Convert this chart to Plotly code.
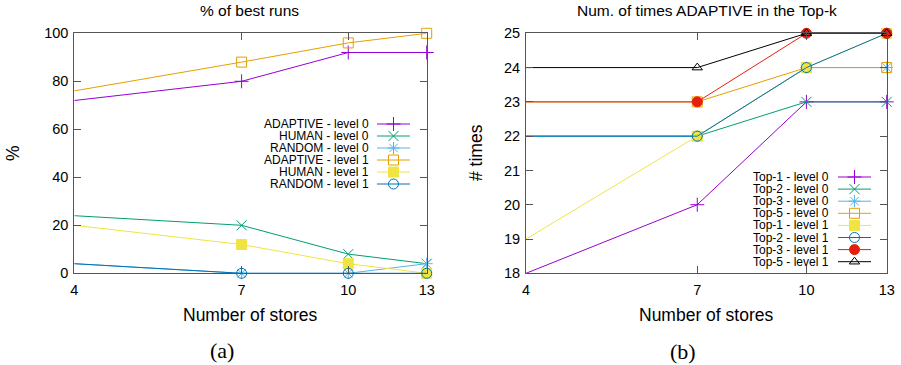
import math
import plotly.graph_objects as go

# screen size; the page's default body margin is removed after plotting
W, H = 901, 365
OFF = 0
FW, FH = W - OFF, H - OFF

# ---------------- data ----------------
stores = [4, 7, 10, 13]

best_names = ["ADAPTIVE - level 0", "HUMAN - level 0", "RANDOM - level 0",
              "ADAPTIVE - level 1", "HUMAN - level 1", "RANDOM - level 1"]
adaptive_l0 = [72, 80, 92, 92]
human_l0 = [24, 20, 8, 4]
random_l0 = [4, 0, 0, 4]
adaptive_l1 = [76, 88, 96, 100]
human_l1 = [20, 12, 4, 0]
random_l1 = [4, 0, 0, 0]
best_series = [adaptive_l0, human_l0, random_l0, adaptive_l1, human_l1, random_l1]

top_names = ["Top-1 - level 0", "Top-2 - level 0", "Top-3 - level 0", "Top-5 - level 0",
             "Top-1 - level 1", "Top-2 - level 1", "Top-3 - level 1", "Top-5 - level 1"]
top1_l0 = [18, 20, 23, 23]
top2_l0 = [22, 22, 23, 23]
top3_l0 = [22, 22, 24, 24]
top5_l0 = [23, 23, 24, 24]
top1_l1 = [19, 22, 24, 25]
top2_l1 = [22, 22, 24, 25]
top3_l1 = [23, 23, 25, 25]
top5_l1 = [24, 24, 25, 25]
top_series = [top1_l0, top2_l0, top3_l0, top5_l0, top1_l1, top2_l1, top3_l1, top5_l1]

pct_ticks = [0, 20, 40, 60, 80, 100]
times_ticks = [18, 19, 20, 21, 22, 23, 24, 25]

# ---------------- styles (gnuplot default cycle) ----------------
colors = ["#9400D3", "#009E73", "#56B4E9", "#E69F00", "#F0E442", "#0072B2", "#E51E10", "#000000"]
symbols = ["cross-thin", "x-thin", "asterisk", "square-open", "square", "circle-open", "circle", "triangle-up-open"]
msizes = [10, 10, 10, 10, 10, 10, 10, 9]

FONT = "Liberation Sans, Arial, sans-serif"
SERIF = "Liberation Serif, DejaVu Serif, serif"
AX = "#555555"

# plot areas in screen pixels (left, top, right, bottom)
A = (74.3, 33.3, 426.7, 273.3)
B = (526.0, 33.3, 886.7, 273.3)


def px(sx):
    return (sx - OFF) / FW


def py(sy):
    return 1 - (sy - OFF) / FH


def xdom(p):
    return [px(p[0]), px(p[2])]


def ydom(p):
    return [py(p[3]), py(p[1])]


def marker(i):
    return dict(symbol=symbols[i], size=msizes[i], color=colors[i],
                line=dict(color=colors[i], width=1))


fig = go.Figure()

for i, (name, ys) in enumerate(zip(best_names, best_series)):
    fig.add_trace(go.Scatter(x=stores, y=ys, mode="lines+markers", name=name,
                             line=dict(color=colors[i], width=1), marker=marker(i),
                             cliponaxis=False, showlegend=False, xaxis="x", yaxis="y"))

for i, (name, ys) in enumerate(zip(top_names, top_series)):
    fig.add_trace(go.Scatter(x=stores, y=ys, mode="lines+markers", name=name,
                             line=dict(color=colors[i], width=1), marker=marker(i),
                             cliponaxis=False, showlegend=False, xaxis="x2", yaxis="y2"))

# ------------- gnuplot-style keys drawn on a pixel overlay axis -------------
annotations = []


def add_key(names, text_right, x1, x2, y0, dy):
    for i, name in enumerate(names):
        yy = y0 + i * dy
        fig.add_trace(go.Scatter(x=[x1, x2], y=[yy, yy], mode="lines",
                                 line=dict(color=colors[i], width=1),
                                 hoverinfo="skip", showlegend=False, xaxis="x3", yaxis="y3"))
        fig.add_trace(go.Scatter(x=[(x1 + x2) / 2], y=[yy], mode="markers",
                                 marker=marker(i), cliponaxis=False,
                                 hoverinfo="skip", showlegend=False, xaxis="x3", yaxis="y3"))
        annotations.append(dict(x=px(text_right), y=py(yy), xref="paper", yref="paper",
                                text=name, showarrow=False, xanchor="right", yanchor="middle",
                                font=dict(family=FONT, size=12, color="black")))


add_key(best_names, 371, 377, 410, 124, 12)
add_key(top_names, 831, 838, 871, 177, 12.1)


def txt(s, x, y, size, angle=0, family=FONT):
    annotations.append(dict(x=px(x), y=py(y), xref="paper", yref="paper", text=s,
                            showarrow=False, xanchor="center", yanchor="middle",
                            textangle=angle, font=dict(family=family, size=size, color="black")))


txt("% of best runs", 250, 10, 15.5)
txt("Num. of times ADAPTIVE in the Top-k", 707, 10, 15.5)
txt("Number of stores", 250, 315, 17.5)
txt("Number of stores", 706, 315, 17.5)
txt("%", 13, 153, 17.5, -90)
txt("# times", 476, 153, 17.5, -90)
txt("(a)", 222, 350, 22, 0, SERIF)
txt("(b)", 683, 351, 22, 0, SERIF)


def xaxis(dom, anchor):
    return dict(domain=dom, anchor=anchor, type="log", automargin=False,
                range=[math.log10(stores[0]), math.log10(stores[-1])],
                tickmode="array", tickvals=stores, ticktext=[str(s) for s in stores],
                ticks="inside", ticklen=7, tickcolor=AX, tickwidth=1,
                showline=True, linecolor=AX, linewidth=1, mirror="ticks",
                showgrid=False, zeroline=False, ticklabelstandoff=3,
                tickfont=dict(family=FONT, size=14.5, color="black"))


def yaxis(dom, anchor, rng, ticks):
    return dict(domain=dom, anchor=anchor, range=rng, automargin=False,
                tickmode="array", tickvals=ticks,
                ticks="inside", ticklen=7, tickcolor=AX, tickwidth=1,
                showline=True, linecolor=AX, linewidth=1, mirror="ticks",
                showgrid=False, zeroline=False, ticklabelstandoff=2,
                tickfont=dict(family=FONT, size=14.5, color="black"))


fig.update_layout(
    width=FW, height=FH,
    margin=dict(l=0, r=0, t=0, b=0, pad=0, autoexpand=False),
    paper_bgcolor="white", plot_bgcolor="rgba(0,0,0,0)",
    showlegend=False,
    xaxis=xaxis(xdom(A), "y"),
    yaxis=yaxis(ydom(A), "x", [pct_ticks[0], pct_ticks[-1]], pct_ticks),
    xaxis2=xaxis(xdom(B), "y2"),
    yaxis2=yaxis(ydom(B), "x2", [times_ticks[0], times_ticks[-1]], times_ticks),
    xaxis3=dict(domain=[0, 1], anchor="y3", range=[OFF, W], visible=False, fixedrange=True),
    yaxis3=dict(domain=[0, 1], anchor="x3", range=[H, OFF], visible=False, fixedrange=True),
    annotations=annotations,
)

fig.write_html("out.html", config={"displayModeBar": False},
               post_script="document.body.style.margin='0';document.body.style.overflow='hidden';")
